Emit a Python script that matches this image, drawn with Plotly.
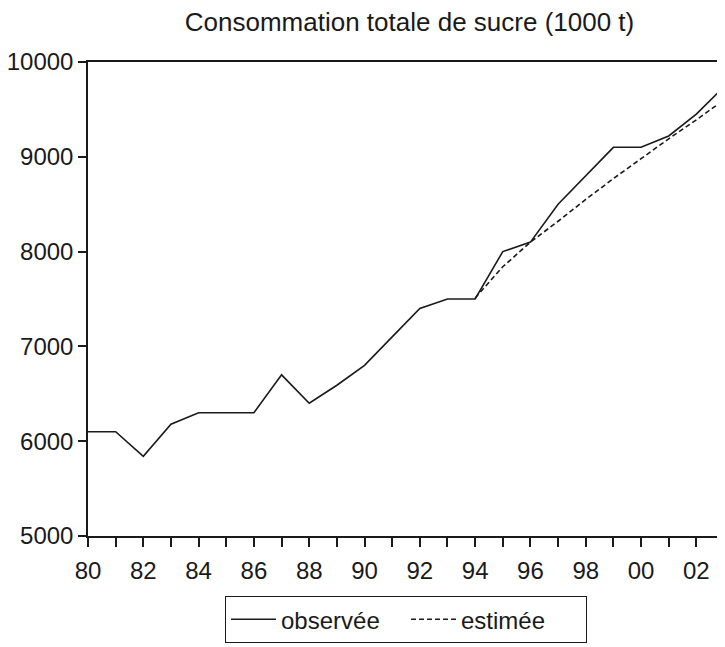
import plotly.graph_objects as go

# Données
annees = list(range(1980, 2004))
observee = [6100, 6100, 5840, 6180, 6300, 6300, 6300, 6700, 6400, 6590,
            6800, 7100, 7400, 7500, 7500, 8000, 8100, 8500, 8800, 9100,
            9100, 9220, 9450, 9740]
annees_est = list(range(1994, 2004))
estimee = [7510, 7840, 8100, 8320, 8550, 8770, 8980, 9190, 9390, 9600]

tick_vals = annees
tick_text = [str(a)[-2:] if a % 2 == 0 else '' for a in annees]
y_vals = [5000, 6000, 7000, 8000, 9000, 10000]
y_text = ['5000', '6000', '7000', '8000', '9000', '10000']

fig = go.Figure()

# Série observée
fig.add_trace(go.Scatter(
    x=annees,
    y=observee,
    mode='lines',
    name='observée',
    line=dict(color='#1a1a1a', width=1.6)
))

# Série estimée
fig.add_trace(go.Scatter(
    x=annees_est,
    y=estimee,
    mode='lines',
    name='estimée',
    line=dict(color='#1a1a1a', width=1.6, dash='5px,3px')
))

# la page a une marge de 8 px : la figure commence à (8, 8)
fig.update_layout(
    width=717,
    height=639,
    margin=dict(l=80, r=1, t=54, b=111, autoexpand=False),
    paper_bgcolor='white',
    plot_bgcolor='white',
    font=dict(family='Liberation Sans, Arial, sans-serif', color='#1a1a1a', size=24),
    title=dict(
        text='Consommation totale de sucre (1000 t)',
        x=0.56, xanchor='center',
        y=0.978, yanchor='middle',
        font=dict(size=26)
    ),
    showlegend=True,
    legend=dict(
        orientation='h',
        x=0.5, xanchor='center',
        y=-0.127, yanchor='top',
        bordercolor='#1a1a1a',
        borderwidth=1,
        font=dict(size=24),
        itemwidth=45,
        entrywidth=120,
        tracegroupgap=0
    )
)

fig.update_xaxes(
    range=[1980, 2003],
    tickvals=tick_vals,
    ticktext=tick_text,
    ticks='outside',
    ticklen=9,
    tickwidth=1.5,
    tickcolor='#1a1a1a',
    ticklabelstandoff=3,
    showline=True,
    linecolor='#1a1a1a',
    linewidth=1.5,
    mirror=True,
    showgrid=False,
    zeroline=False,
    automargin=False
)

fig.update_yaxes(
    range=[5000, 10000],
    tickvals=y_vals,
    ticktext=y_text,
    ticks='outside',
    ticklen=8,
    tickwidth=1.5,
    tickcolor='#1a1a1a',
    showline=True,
    linecolor='#1a1a1a',
    linewidth=1.5,
    mirror=True,
    showgrid=False,
    zeroline=False,
    automargin=False
)

fig.write_html("out.html")
